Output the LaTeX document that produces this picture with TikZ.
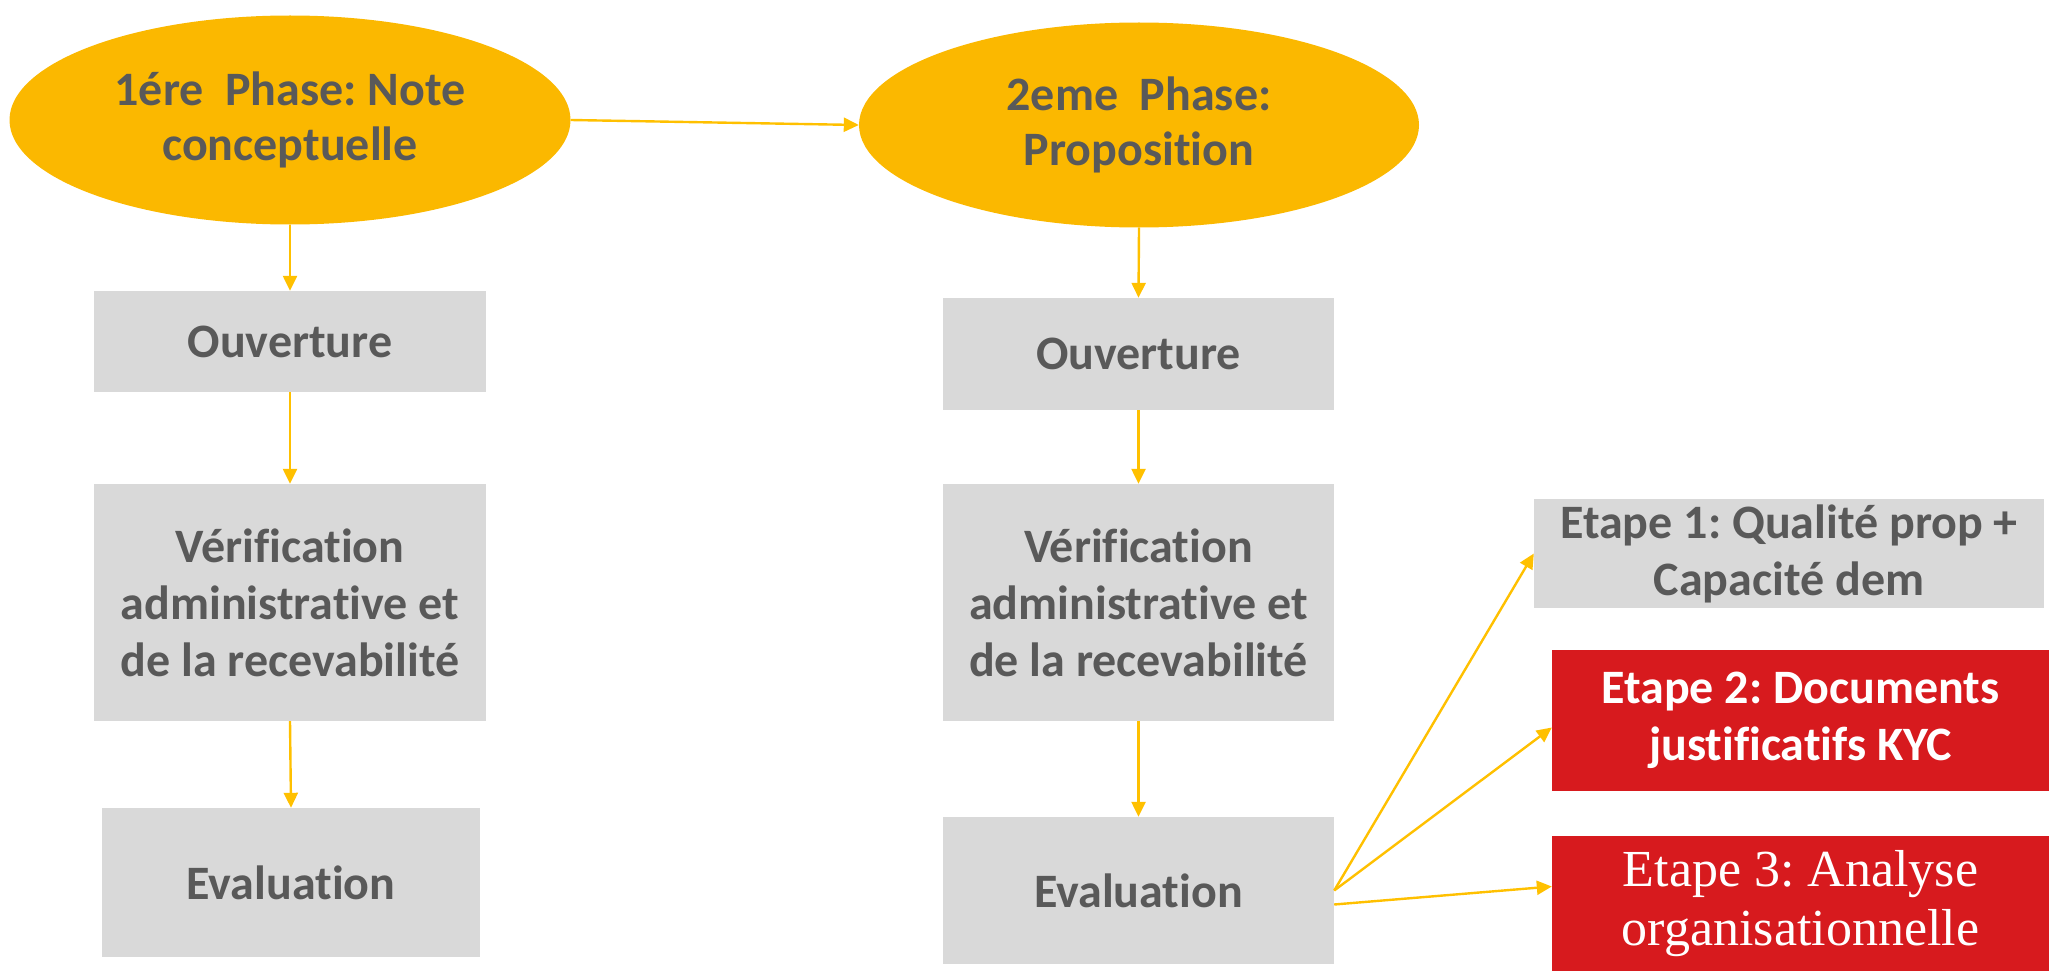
\documentclass[tikz,border=0pt]{standalone}
\usepackage{fontspec}
\setmainfont{Carlito}[Ligatures=NoCommon]
\newfontfamily\serifE{Liberation Serif}
\usetikzlibrary{arrows.meta,shapes.geometric}
\definecolor{gold}{HTML}{FBB800}
\definecolor{arrowc}{HTML}{FFC000}
\definecolor{boxgray}{HTML}{D9D9D9}
\definecolor{txtgray}{HTML}{595959}
\definecolor{boxred}{HTML}{D71A1E}
\frenchspacing
\begin{document}
\begin{tikzpicture}[x=1pt,y=-1pt,
  phase/.style={ellipse, fill=gold, inner sep=0pt, text=txtgray, align=center,
    font=\bfseries\fontsize{48}{55}\selectfont},
  graybox/.style={rectangle, fill=boxgray, inner sep=0pt, text=txtgray, align=center,
    font=\bfseries\fontsize{48}{57}\selectfont},
  redbox/.style={rectangle, fill=boxred, inner sep=0pt, text=white, align=center,
    font=\bfseries\fontsize{48}{57}\selectfont},
  conn/.style={draw=arrowc, line width=2.4pt, -{Triangle[length=15pt,width=14pt]}}
]
\useasboundingbox (0,0) rectangle (2049,971);
\node[phase, minimum width=561pt, minimum height=209pt] (e1) at (290,120) {1ére~~Phase: Note\\conceptuelle};
\node[phase, minimum width=560pt, minimum height=205pt] (e2) at (1139,125) {2eme~~Phase:\\Proposition};
\node[graybox, minimum width=392pt, minimum height=101pt] (o1) at (290,341.5) {Ouverture};
\node[graybox, minimum width=392pt, minimum height=237pt] (v1) at (290,602.5) {Vérification\\administrative et\\de la recevabilité};
\node[graybox, minimum width=378pt, minimum height=149pt] (ev1) at (291,882.5) {Evaluation};
\node[graybox, minimum width=391pt, minimum height=112pt] (o2) at (1138.5,354) {Ouverture};
\node[graybox, minimum width=391pt, minimum height=237pt] (v2) at (1138.5,602.5) {Vérification\\administrative et\\de la recevabilité};
\node[graybox, minimum width=391pt, minimum height=147pt] (ev2) at (1138.5,890.5) {Evaluation};
\node[graybox, minimum width=510pt, minimum height=109pt] (s1) at (1789,553.5) {Etape 1: Qualité prop +\\Capacité dem};
\node[redbox, minimum width=497pt, minimum height=141pt] (s2) at (1800.5,720.5) {Etape 2: Documents\\justificatifs KYC};
\node[redbox, minimum width=497pt, minimum height=135pt, font=\serifE\fontsize{52}{59}\selectfont] (s3) at (1800.5,903.5) {Etape 3: Analyse\\organisationnelle};
\draw[conn] (e1.east) -- (e2.west);
\draw[conn] (e1.south) -- (o1.north);
\draw[conn] (o1.south) -- (v1.north);
\draw[conn] (v1.south) -- (ev1.north);
\draw[conn] (e2.south) -- (o2.north);
\draw[conn] (o2.south) -- (v2.north);
\draw[conn] (v2.south) -- (ev2.north);
\draw[conn] (ev2.east) -- (s1.west);
\draw[conn] (ev2.east) -- ([yshift=-7pt]s2.west);
\draw[conn] ([yshift=-14pt]ev2.east) -- ([yshift=17pt]s3.west);
\end{tikzpicture}
\end{document}
